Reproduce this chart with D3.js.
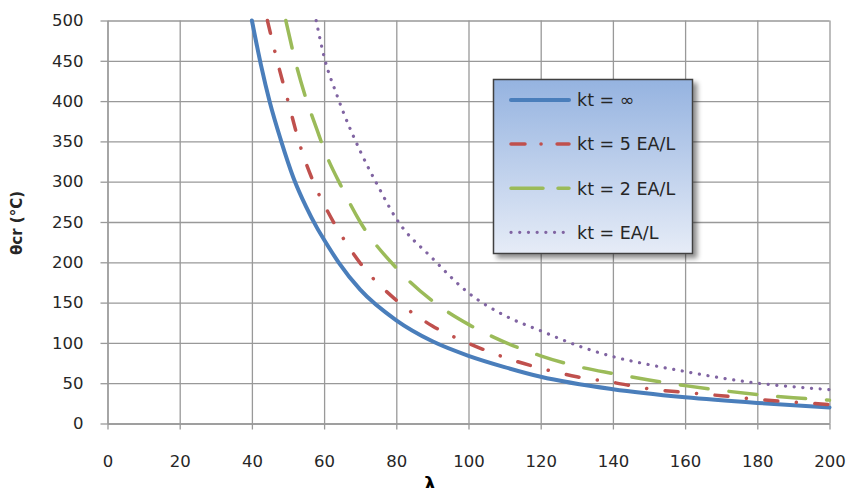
<!DOCTYPE html>
<html>
<head>
<meta charset="utf-8">
<script src="https://cdn.jsdelivr.net/npm/d3@7"></script>
<style>
  body { margin: 0; background: #fff; }
</style>
</head>
<body>
<script>
// series: lambda -> theta_cr (°C)
const lamInf = [40, 42.5, 45, 48, 51.5, 55, 58, 60, 64, 70, 80, 90, 100, 110, 120, 140, 160, 180, 200]
const thetaInf = [500, 445, 398, 352, 305, 269, 243, 228, 200, 166, 128, 102, 84, 70, 58, 42.5, 32.5, 25.5, 20]

const lam5 = [44.3, 47, 50, 53, 57, 61, 65, 70, 80, 90, 100, 110, 120, 130, 140, 150, 160, 170, 180, 190, 200]
const theta5 = [500, 450, 400, 350, 300, 263, 232, 199, 153, 121, 99.5, 82, 68.5, 58, 51, 43, 38.5, 34.5, 30, 26.5, 23.5]

const lam2 = [49.4, 52, 55, 58, 60, 65, 70, 80, 90, 100, 110, 120, 130, 140, 150, 160, 170, 180, 190, 200]
const theta2 = [500, 450, 403, 365, 340, 292, 250, 193, 152, 123, 101, 84, 71, 62, 54, 47, 41, 36, 32, 29]

const lam1 = [57.8, 60, 63.5, 65, 70, 75, 80, 90, 100, 110, 120, 130, 140, 150, 160, 170, 180, 190, 200]
const theta1 = [500, 455, 408, 390, 338, 294, 254, 205, 162, 134, 115, 97, 83, 73, 64.5, 56.5, 50, 45.5, 42]

const seriesNames = ['kt = ∞', 'kt = 5 EA/L', 'kt = 2 EA/L', 'kt = EA/L']
const xTicks = [0, 20, 40, 60, 80, 100, 120, 140, 160, 180, 200]
const yTicks = [0, 50, 100, 150, 200, 250, 300, 350, 400, 450, 500]

const W = 848
const H = 488
const font = '"DejaVu Sans", sans-serif'

const series = [
  { name: seriesNames[0], x: lamInf, y: thetaInf, color: '#4A7EBB', width: 4, dash: null },
  { name: seriesNames[1], x: lam5, y: theta5, color: '#C0504D', width: 3.5, dash: '13,18.5,0.1,18.5' },
  { name: seriesNames[2], x: lam2, y: theta2, color: '#9BBB59', width: 3.5, dash: '28,21' },
  { name: seriesNames[3], x: lam1, y: theta1, color: '#8064A2', width: 3.2, dash: '0.1,8.6' },
]

const svgEl = d3.create('svg')
  .attr('width', W)
  .attr('height', H)
  .style('background', '#fff')
  .style('display', 'block')

const xScale = d3.scaleLinear().domain([0, 200]).range([107.5, 829.5])
const yScale = d3.scaleLinear().domain([0, 500]).range([423.5, 20.5])

const defs = svgEl.append('defs')
const grad = defs.append('linearGradient')
  .attr('id', 'legendFill')
  .attr('x1', 0).attr('y1', 0).attr('x2', 0).attr('y2', 1)
grad.append('stop').attr('offset', '0%').attr('stop-color', '#95B3E0')
grad.append('stop').attr('offset', '100%').attr('stop-color', '#E6ECF7')

const shadow = defs.append('filter')
  .attr('id', 'shadow')
  .attr('x', '-10%').attr('y', '-10%').attr('width', '130%').attr('height', '130%')
shadow.append('feDropShadow')
  .attr('dx', 4).attr('dy', 4)
  .attr('stdDeviation', 2.5)
  .attr('flood-color', '#000')
  .attr('flood-opacity', 0.45)

// gridlines
const gridCol = '#999'

svgEl.append('g')
  .attr('transform', `translate(${xScale(0)},0)`)
  .call(d3.axisLeft(yScale).tickValues(yTicks).tickSize(-(xScale(200) - xScale(0))).tickFormat(''))
  .call(g => g.select('.domain').remove())
  .call(g => g.selectAll('line').attr('stroke', gridCol).attr('stroke-width', 1.3))

svgEl.append('g')
  .attr('transform', `translate(0,${yScale(0)})`)
  .call(d3.axisBottom(xScale).tickValues(xTicks).tickSize(-(yScale(0) - yScale(500))).tickFormat(''))
  .call(g => g.select('.domain').remove())
  .call(g => g.selectAll('line').attr('stroke', gridCol).attr('stroke-width', 1.3))

// axes with outside ticks and labels
const yAxis = svgEl.append('g')
  .attr('transform', `translate(${xScale(0)},0)`)
  .call(d3.axisLeft(yScale).tickValues(yTicks).tickSize(7).tickSizeOuter(0).tickPadding(17))
yAxis.select('.domain').attr('stroke', gridCol).attr('stroke-width', 1.3)
yAxis.selectAll('line').attr('stroke', gridCol).attr('stroke-width', 1.3)
yAxis.selectAll('text')
  .attr('font-family', font)
  .attr('font-size', 16.5)
  .attr('fill', '#262626')

const xAxis = svgEl.append('g')
  .attr('transform', `translate(0,${yScale(0)})`)
  .call(d3.axisBottom(xScale).tickValues(xTicks).tickSize(6).tickSizeOuter(0).tickPadding(26))
xAxis.select('.domain').attr('stroke', gridCol).attr('stroke-width', 1.3)
xAxis.selectAll('line').attr('stroke', gridCol).attr('stroke-width', 1.3)
xAxis.selectAll('text')
  .attr('font-family', font)
  .attr('font-size', 16.5)
  .attr('fill', '#262626')

// curves
const line = d3.line()
  .x(d => xScale(d[0]))
  .y(d => yScale(d[1]))
  .curve(d3.curveMonotoneX)

svgEl.append('g')
  .selectAll('path')
  .data(series)
  .join('path')
  .attr('d', s => line(s.x.map((v, i) => [v, s.y[i]])))
  .attr('fill', 'none')
  .attr('stroke', s => s.color)
  .attr('stroke-width', s => s.width)
  .attr('stroke-linecap', 'round')
  .attr('stroke-linejoin', 'round')
  .attr('stroke-dasharray', s => s.dash)

// legend
const legend = svgEl.append('g')
legend.append('rect')
  .attr('x', 493.5).attr('y', 79.5)
  .attr('width', 199).attr('height', 174)
  .attr('fill', 'url(#legendFill)')
  .attr('stroke', '#404040')
  .attr('stroke-width', 1.5)
  .attr('filter', 'url(#shadow)')

const rows = legend.selectAll('g.row')
  .data(series)
  .join('g')
  .attr('class', 'row')
  .attr('transform', (d, i) => `translate(0,${100 + i * 44.1})`)

rows.append('line')
  .attr('x1', 511).attr('x2', 569)
  .attr('y1', 0).attr('y2', 0)
  .attr('stroke', d => d.color)
  .attr('stroke-width', d => d.width)
  .attr('stroke-linecap', 'round')
  .attr('stroke-dasharray', (d, i) => i === 1 ? '14,16,0.1,16' : i === 2 ? '32,15' : d.dash)

rows.append('text')
  .attr('x', 577)
  .attr('y', 0)
  .attr('dy', '0.36em')
  .attr('font-family', font)
  .attr('font-size', 17.5)
  .attr('fill', '#262626')
  .text(d => d.name)

// axis titles
svgEl.append('text')
  .attr('transform', 'translate(22,223) rotate(-90)')
  .attr('text-anchor', 'middle')
  .attr('font-family', font)
  .attr('font-size', 15)
  .attr('font-weight', 'bold')
  .attr('fill', '#262626')
  .text('θcr (°C)')

svgEl.append('text')
  .attr('x', 430)
  .attr('y', 490)
  .attr('text-anchor', 'middle')
  .attr('font-family', font)
  .attr('font-size', 18)
  .attr('font-weight', 'bold')
  .attr('fill', '#000')
  .text('λ')

document.body.appendChild(svgEl.node())
</script>
</body>
</html>
